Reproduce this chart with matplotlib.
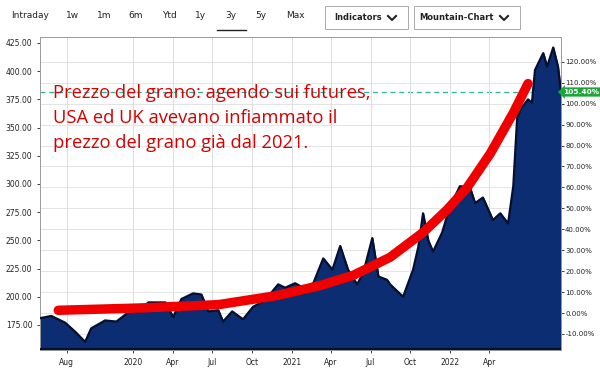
import numpy as np
import pandas as pd
import matplotlib.pyplot as plt
import matplotlib.dates as mdates
from matplotlib.lines import Line2D
from matplotlib.patches import Rectangle

# prezzo (mountain chart)
dates = ['2019-05-31', '2019-06-26', '2019-07-28', '2019-08-20', '2019-09-12', '2019-09-26',
         '2019-10-28', '2019-11-23', '2019-12-20', '2020-01-13', '2020-02-05', '2020-03-15',
         '2020-04-02', '2020-04-21', '2020-05-18', '2020-06-06', '2020-06-22', '2020-07-15',
         '2020-07-26', '2020-08-16', '2020-09-10', '2020-10-03', '2020-10-31', '2020-11-30',
         '2020-12-16', '2021-01-08', '2021-01-27', '2021-02-19', '2021-03-14', '2021-04-04',
         '2021-04-22', '2021-05-10', '2021-05-31', '2021-06-14', '2021-07-05', '2021-07-19',
         '2021-08-08', '2021-08-15', '2021-09-14', '2021-10-07', '2021-10-19', '2021-10-30',
         '2021-11-11', '2021-11-22', '2021-12-13', '2021-12-31', '2022-01-23', '2022-02-15',
         '2022-02-27', '2022-03-17', '2022-04-09', '2022-04-26', '2022-05-14', '2022-05-26',
         '2022-06-04', '2022-06-15', '2022-06-29', '2022-07-08', '2022-07-15', '2022-08-03',
         '2022-08-12', '2022-08-26', '2022-09-06', '2022-09-13']
prices = [181, 183, 177, 169, 160, 172,
          179, 178, 186, 187, 195, 195,
          182, 198, 203, 202, 187, 188,
          178, 187, 180, 191, 197, 211,
          208, 212, 208, 212, 234, 224,
          245, 224, 211, 221, 252, 218,
          215, 211, 200, 224, 244, 274,
          250, 240, 257, 280, 298, 297,
          283, 288, 268, 274, 265, 298,
          359, 368, 375, 372, 401, 416,
          404, 421, 404, 381]

# linea rossa (trend disegnato)
trend_dates = ['2019-07-12', '2020-01-13', '2020-07-15', '2020-11-26', '2021-03-07',
               '2021-05-22', '2021-08-15', '2021-10-30', '2021-12-24', '2022-02-09',
               '2022-04-03', '2022-05-26', '2022-06-29']
trend = [188, 190, 193, 201, 210, 219, 235, 257, 277, 297, 327, 363, 389]

base = 185.6
last_pct = 105.40

xticks = ['2019-08-01', '2020-01-01', '2020-04-01', '2020-07-01', '2020-10-01', '2021-01-01',
          '2021-04-01', '2021-07-01', '2021-10-01', '2022-01-01', '2022-04-01']
xlabels = ['Aug', '2020', 'Apr', 'Jul', 'Oct', '2021', 'Apr', 'Jul', 'Oct', '2022', 'Apr']
yticks = [175, 200, 225, 250, 275, 300, 325, 350, 375, 400, 425]
pticks = list(range(-10, 130, 10))

tabs = ['Intraday', '1w', '1m', '6m', 'Ytd', '1y', '3y', '5y', 'Max']
tab_x = [30, 73, 104, 136, 169, 201, 231, 261, 295]


def main():
    d = pd.to_datetime(dates)
    td = pd.to_datetime(trend_dates)

    fig = plt.figure(figsize=(6, 3.71), dpi=100)
    ax = fig.add_axes([40 / 600, 1 - 350 / 371, 521 / 600, 313 / 371])
    ylo, yhi = 152.8, 430.3
    ax.set_xlim(pd.Timestamp('2019-05-31'), pd.Timestamp('2022-09-13'))
    ax.set_ylim(ylo, yhi)

    ax.fill_between(d, 140, prices, color='#0c2d72', zorder=2)
    ax.plot(d, prices, color='#04102e', lw=1.6, zorder=3)
    ax.axhline(ylo, color='#04102e', lw=3, zorder=3)

    ax.axhline(base * (1 + last_pct / 100), color='#2fb39a', lw=0.9, ls=(0, (4, 3)), zorder=1)

    ax.plot(td, trend, color='#f00000', lw=6.8, solid_capstyle='round',
            solid_joinstyle='round', zorder=4)

    ax.set_xticks(pd.to_datetime(xticks))
    ax.set_xticklabels(xlabels)
    ax.set_yticks(yticks)
    ax.set_yticklabels(['%.2f' % v for v in yticks])
    ax.tick_params(axis='both', labelsize=5.5, colors='#222222', length=2, width=0.6)
    ax.tick_params(axis='x', pad=4)
    ax.grid(True, axis='x', color='#dddddd', lw=0.7, zorder=0)
    for s in ['left', 'bottom', 'right', 'top']:
        ax.spines[s].set_color('#999999')
        ax.spines[s].set_linewidth(0.7)

    ax2 = ax.twinx()
    ax2.set_ylim((ylo / base - 1) * 100, (yhi / base - 1) * 100)
    ax2.set_yticks(pticks)
    ax2.set_yticklabels(['%.2f%%' % p for p in pticks])
    ax2.tick_params(axis='y', labelsize=5, colors='#222222', length=2, width=0.6, pad=1)
    ax2.grid(True, axis='y', color='#e4e4e4', lw=0.7)
    ax2.set_zorder(-1)
    ax.patch.set_visible(False)
    for s in ax2.spines.values():
        s.set_visible(False)

    fig.text(563 / 600, 1 - 92 / 371, '%.2f%%' % last_pct, fontsize=5.3, color='white',
             fontweight='bold', va='center', ha='left',
             bbox=dict(boxstyle='larrow,pad=0.22', fc='#1ea53a', ec='none'), zorder=10)

    fig.text(53 / 600, 1 - 84 / 371,
             'Prezzo del grano: agendo sui futures,\nUSA ed UK avevano infiammato il\nprezzo del grano già dal 2021.',
             fontsize=13.2, color='#d60000', family=['Open Sans', 'DejaVu Sans'],
             va='top', ha='left', linespacing=1.5, zorder=6)

    # barra superiore
    for t, x in zip(tabs, tab_x):
        fig.text(x / 600, 1 - 16 / 371, t, fontsize=6.5, color='#222222', ha='center', va='center')
    fig.add_artist(Line2D([217 / 600, 246 / 600], [1 - 30 / 371] * 2, color='#222222', lw=1))
    for x0, w, lab in [(325, 83, 'Indicators'), (414, 106, 'Mountain-Chart')]:
        fig.add_artist(Rectangle((x0 / 600, 1 - 29 / 371), w / 600, 23 / 371, fill=False,
                                 ec='#aaaaaa', lw=0.7, transform=fig.transFigure))
        fig.text((x0 + w - 26) / 600, 1 - 18 / 371, lab, fontsize=6, fontweight='bold',
                 color='#222222', ha='right', va='center')
        cx = x0 + w - 16
        fig.add_artist(Line2D([(cx - 4) / 600, cx / 600, (cx + 4) / 600],
                              [1 - 16 / 371, 1 - 20 / 371, 1 - 16 / 371], color='#222222', lw=1.5))

    fig.savefig('out.png', dpi=100)


if __name__ == '__main__':
    main()
